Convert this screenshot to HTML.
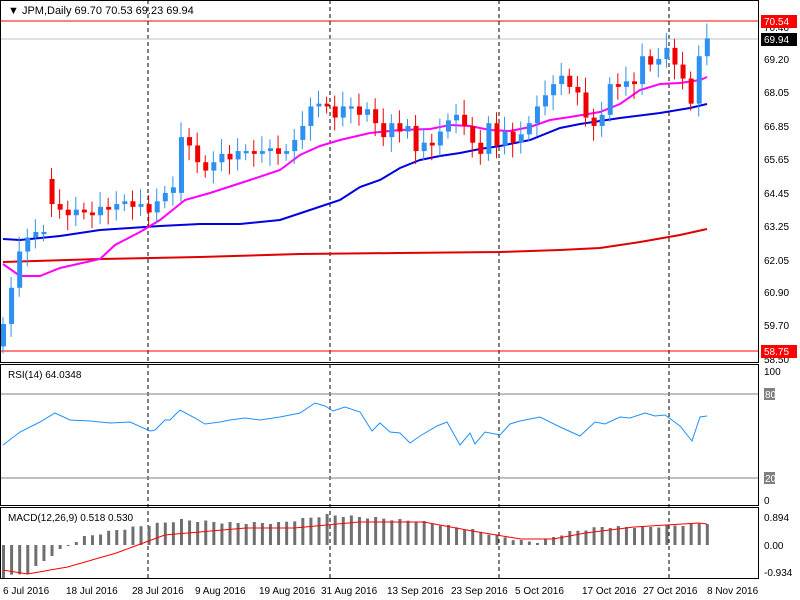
<!DOCTYPE html><html><head><style>body{margin:0;background:#fff}svg{display:block;font-family:"Liberation Sans",sans-serif;font-size:10px}</style></head><body>
<svg id="s" width="800" height="600" xmlns="http://www.w3.org/2000/svg"></svg>
<script>
const s=document.getElementById('s');let h='';
const C=[59.7,61.0,62.3,62.8,63.0,63.0,64.0,63.8,63.6,63.8,63.7,63.6,63.9,63.8,64.0,64.1,63.9,64.0,63.7,64.1,64.4,64.6,66.4,66.1,65.5,65.2,65.5,65.8,65.6,65.9,65.9,65.8,65.9,66.0,65.8,65.9,66.3,66.8,67.5,67.6,67.5,67.1,67.5,67.5,67.2,67.4,66.9,66.4,66.9,66.6,66.8,65.9,66.2,66.1,66.6,67.0,67.2,66.8,66.2,65.8,66.9,66.1,66.6,66.2,66.5,66.9,67.5,67.9,68.3,68.6,68.2,68.0,67.1,66.8,67.2,68.3,68.2,68.4,68.3,69.3,69.0,69.2,69.6,69.0,68.5,67.6,69.3,69.94];
const X=i=>3+i*8.09,Y=p=>59+(69.2-p)*27.9;
// grid verticals
[148,330,499,669].forEach(x=>h+=`<line x1="${x}" y1="0" x2="${x}" y2="578" stroke="#000" stroke-dasharray="4,3"/>`);
h+=`<line x1="0" y1="39" x2="758" y2="39" stroke="#c0c0c0"/>`;
h+=`<line x1="0" y1="21" x2="758" y2="21" stroke="#f00"/><line x1="0" y1="351" x2="758" y2="351" stroke="#f00"/>`;
const pl=(pts,c,w)=>h+=`<polyline fill="none" stroke="${c}" stroke-width="${w}" points="${pts.map(p=>p.join(',')).join(' ')}"/>`;
pl([[3,262],[100,259],[200,257],[300,254],[400,253],[500,252],[560,250],[600,248],[640,242],[680,235],[707,229]],'#e00000',2);
pl([[3,239],[20,240],[60,236],[100,230],[130,228],[160,226],[200,224],[240,224],[280,220],[310,210],[340,200],[360,187],[380,180],[400,168],[420,160],[440,156],[460,153],[480,149],[500,146],[530,140],[560,128],[580,124],[620,118],[660,113],[690,108],[707,104]],'#0000e0',2);
pl([[3,264],[20,276],[40,276],[60,268],[100,259],[115,245],[140,232],[160,220],[185,200],[210,193],[250,180],[280,170],[300,155],[320,146],[340,140],[370,133],[400,130],[430,129],[450,125],[470,126],[490,130],[510,131],[530,127],[550,120],[570,117],[600,112],[620,104],[640,90],[660,84],[680,83],[700,80],[707,77]],'#ff00ff',2);
for(let i=0;i<C.length;i++){let o=i==0?58.9:C[i-1];if(i==6)o=64.9;if(i==22)o=64.4;let c=C[i];if(Math.abs(c-o)<0.05)o=c-0.08;
const up=c>=o,col=up?'#2e90f0':'#f00000';const hi=Math.max(o,c)+0.25+((i*37)%5)*0.07,lo=Math.min(o,c)-0.25-((i*53)%5)*0.07;const x=X(i);
h+=`<line x1="${x}" y1="${Y(hi)}" x2="${x}" y2="${Y(lo)}" stroke="${col}"/><rect x="${x-2}" y="${Y(Math.max(o,c))}" width="5" height="${Math.max(1,Math.abs(Y(o)-Y(c)))}" fill="${col}"/>`;}
// panels frames
h+=`<rect x="0.5" y="0.5" width="758" height="362" fill="none" stroke="#000"/><rect x="0.5" y="364.5" width="758" height="141" fill="none" stroke="#000"/><rect x="0.5" y="507.5" width="758" height="71" fill="none" stroke="#000"/>`;
h+=`<text x="8" y="14" font-size="11">▼ JPM,Daily  69.70 70.53 69.23 69.94</text>`;
[[70.40,27],[69.20,59],[68.05,92],[66.85,126],[65.65,159],[64.45,193],[63.25,226],[62.05,260],[60.90,292],[59.70,325],[58.50,359]].forEach(a=>h+=`<text x="764" y="${a[1]+4}">${a[0].toFixed(2)}</text>`);
h+=`<rect x="761" y="15" width="36" height="13" fill="#f00"/><text x="764" y="25" fill="#fff">70.54</text>`;
h+=`<rect x="761" y="33" width="36" height="13" fill="#000"/><text x="764" y="43" fill="#fff">69.94</text>`;
h+=`<rect x="761" y="345" width="36" height="13" fill="#f00"/><text x="764" y="355" fill="#fff">58.75</text>`;
// RSI
h+=`<line x1="1" y1="394" x2="758" y2="394" stroke="#808080"/><line x1="1" y1="478" x2="758" y2="478" stroke="#808080"/>`;
h+=`<text x="8" y="378">RSI(14) 64.0348</text><text x="764" y="375">100</text><rect x="764" y="388" width="11" height="12" fill="#808080"/><text x="765" y="398" fill="#fff">80</text><rect x="764" y="472" width="11" height="12" fill="#808080"/><text x="765" y="482" fill="#fff">20</text><text x="764" y="504">0</text>`;
pl([[3,445],[20,432],[40,422],[55,413],[70,420],[90,421],[110,423],[130,422],[150,431],[155,430],[165,420],[170,420],[180,410],[195,418],[205,424],[220,422],[230,420],[245,418],[260,420],[280,417],[300,413],[315,403],[325,406],[333,411],[345,407],[360,412],[372,431],[380,423],[390,432],[400,433],[410,443],[420,436],[437,426],[447,422],[460,445],[470,433],[475,444],[485,432],[500,435],[510,424],[520,421],[540,417],[560,427],[580,436],[595,422],[605,424],[620,417],[630,418],[645,413],[655,416],[665,415],[680,426],[692,441],[700,417],[707,416]],'#1e90ff',1);
// MACD
const HK=[[0,-32],[3,-28],[6,-10],[8,0],[10,8],[14,15],[18,20],[22,25],[28,22],[34,22],[40,30],[46,27],[52,23],[58,15],[64,4],[66,3],[70,13],[74,18],[80,18],[84,20],[87,22]];
function interp(K,i){for(let k=0;k<K.length-1;k++){if(i<=K[k+1][0]){const t=(i-K[k][0])/(K[k+1][0]-K[k][0]);return K[k][1]+t*(K[k+1][1]-K[k][1]);}}return K[K.length-1][1];}
for(let i=0;i<88;i++){const v=interp(HK,i)+((i*29)%3-1);const x=X(i);h+=`<rect x="${x-1}" y="${v>0?545-v:545}" width="3" height="${Math.max(1,Math.abs(v))}" fill="#707070"/>`;}
const SK=[[0,-25],[3,-29],[8,-22],[14,-8],[20,10],[30,17],[36,17],[44,23],[52,23],[58,14],[64,6],[68,6],[72,12],[78,18],[86,22],[87,21]];
let sp=[];for(let i=0;i<88;i++)sp.push([X(i),545-interp(SK,i)]);pl(sp,'#f00',1);
h+=`<text x="8" y="521">MACD(12,26,9) 0.518 0.530</text><text x="764" y="521">0.894</text><text x="764" y="549">0.00</text><text x="764" y="576">-0.934</text>`;
[["6 Jul 2016",3],["18 Jul 2016",66],["28 Jul 2016",132],["9 Aug 2016",195],["19 Aug 2016",259],["31 Aug 2016",321],["13 Sep 2016",387],["23 Sep 2016",451],["5 Oct 2016",515],["17 Oct 2016",582],["27 Oct 2016",643],["8 Nov 2016",707]].forEach(a=>h+=`<text x="${a[1]}" y="594">${a[0]}</text>`);
s.innerHTML=h;
</script></body></html>
